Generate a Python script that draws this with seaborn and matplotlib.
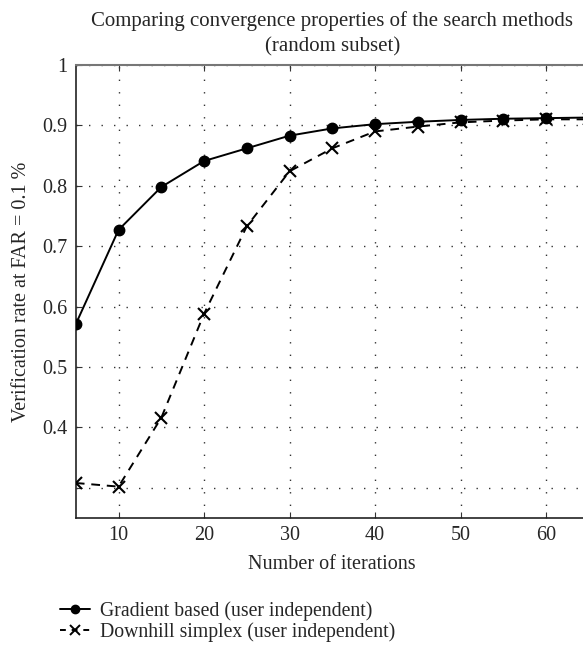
import numpy as np
import pandas as pd
import matplotlib
matplotlib.use("Agg")
import matplotlib.pyplot as plt
import seaborn as sns
from matplotlib.lines import Line2D

iterations = [5, 10, 15, 20, 25, 30, 35, 40, 45, 50, 55, 60, 65]
gradient = [0.571, 0.727, 0.798, 0.841, 0.862, 0.883, 0.895, 0.902, 0.906, 0.909, 0.911, 0.912, 0.913]
downhill = [0.308, 0.302, 0.416, 0.588, 0.733, 0.824, 0.862, 0.890, 0.898, 0.905, 0.908, 0.910, 0.910]
series_names = ["Gradient based (user independent)", "Downhill simplex (user independent)"]
x_ticks = [10, 20, 30, 40, 50, 60]
y_ticks = [0.3, 0.4, 0.5, 0.6, 0.7, 0.8, 0.9, 1.0]
y_ticklabels = ["", "0.4", "0.5", "0.6", "0.7", "0.8", "0.9", "1"]

sns.set_style("ticks")
plt.rcParams['font.family'] = ['Liberation Serif', 'DejaVu Serif']

fig = plt.figure(figsize=(5.83, 6.53), dpi=100)
ax = fig.add_axes([0.130, 0.2067, 0.880, 0.6938])

sns.lineplot(x=iterations, y=gradient, color="black", marker="o", markersize=7.5,
             linewidth=1.4, markeredgecolor="black", markeredgewidth=1.0,
             ax=ax, legend=False, zorder=3)
sns.lineplot(x=iterations, y=downhill, color="black", marker="x", markersize=9,
             linewidth=1.4, markeredgecolor="black", markeredgewidth=1.5,
             linestyle=(0, (4.5, 3.5)), ax=ax, legend=False, zorder=3)

ax.set_xlim(5, 65)
ax.set_ylim(0.25, 1.0)
ax.set_xticks(x_ticks)
ax.set_yticks(y_ticks)
ax.set_yticklabels(y_ticklabels)
ax.tick_params(direction="in", labelsize=14.5, top=True, right=True, length=4,
               color="#333333", pad=6)
ax.grid(True, linestyle=(0, (1, 8)), color="#333333", linewidth=1.0)
for s in ["left", "bottom"]:
    ax.spines[s].set_color("#222222")
    ax.spines[s].set_linewidth(1.2)
ax.spines["top"].set_color("#777777")
ax.spines["top"].set_linewidth(1.5)
ax.set_xlabel("Number of iterations", fontsize=14.5, labelpad=7)
ax.set_ylabel("Verification rate at FAR = 0.1 %", fontsize=14.5, labelpad=8)
ax.set_title("Comparing convergence properties of the search methods\n(random subset)",
             fontsize=15, pad=10, linespacing=1.4)

handles = [
    Line2D([], [], color="black", marker="o", markersize=6, linewidth=1.4),
    Line2D([], [], color="black", marker="x", markersize=7, linestyle=(0, (3, 3)),
           linewidth=1.4, markeredgewidth=1.4),
]
fig.legend(handles, series_names, loc="upper left", bbox_to_anchor=(0.09, 0.092),
           frameon=False, fontsize=14.2, handlelength=1.5, handletextpad=0.5,
           labelspacing=0.1, borderaxespad=0)

fig.savefig("out.png", dpi=100)
